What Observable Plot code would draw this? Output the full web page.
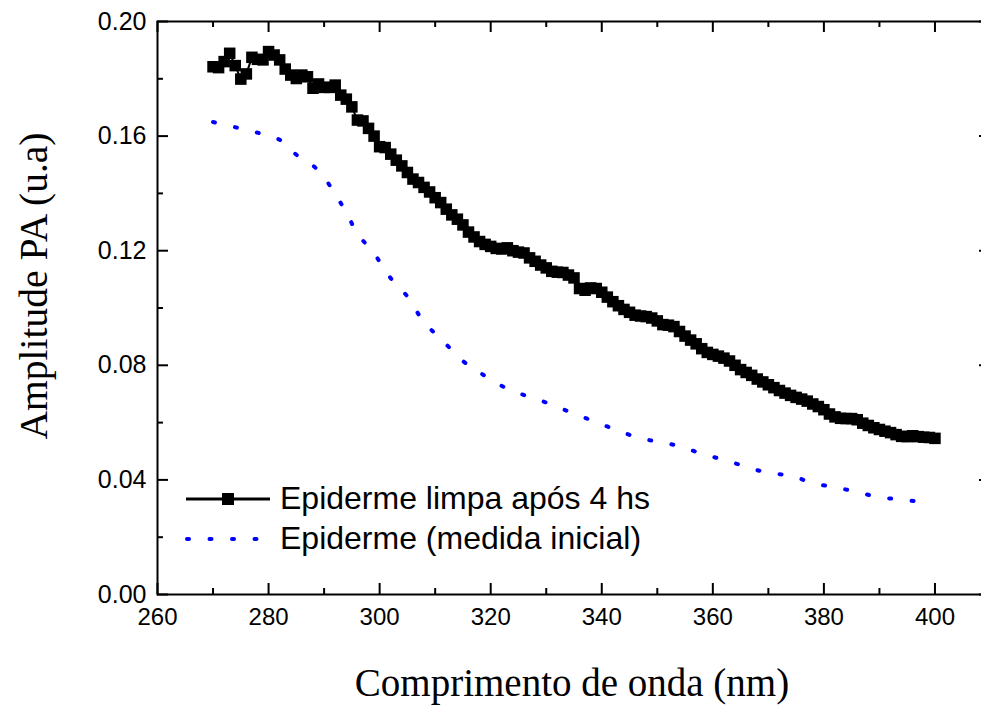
<!DOCTYPE html>
<html><head><meta charset="utf-8">
<script src="https://cdn.jsdelivr.net/npm/d3@7"></script>
<script src="https://cdn.jsdelivr.net/npm/@observablehq/plot@0.6"></script>
<style>
html,body{margin:0;padding:0;overflow:hidden;background:#fff;width:981px;height:706px}
#chart svg{max-width:none!important;display:block;overflow:hidden}
</style></head><body><div id="chart"></div>
<script>
// ---- data ----
const cleanNm = [270,271,272,273,274,275,276,277,278,279,280,281,282,283,284,285,286,287,288,289,290,291,292,293,294,295,296,297,298,299,300,301,302,303,304,305,306,307,308,309,310,311,312,313,314,315,316,317,318,319,320,321,322,323,324,325,326,327,328,329,330,331,332,333,334,335,336,337,338,339,340,341,342,343,344,345,346,347,348,349,350,351,352,353,354,355,356,357,358,359,360,361,362,363,364,365,366,367,368,369,370,371,372,373,374,375,376,377,378,379,380,381,382,383,384,385,386,387,388,389,390,391,392,393,394,395,396,397,398,399,400];
const cleanAmp = [
0.1842,0.1839,0.1860,0.1889,0.1846,0.1799,0.1817,0.1875,0.1868,0.1866,
0.1895,0.1883,0.1866,0.1834,0.1813,0.1801,0.1813,0.1807,0.1767,0.1782,
0.1770,0.1770,0.1778,0.1743,0.1729,0.1702,0.1656,0.1653,0.1627,0.1600,
0.1563,0.1560,0.1537,0.1516,0.1496,0.1473,0.1450,0.1438,0.1421,0.1405,
0.1385,0.1368,0.1345,0.1325,0.1310,0.1290,0.1265,0.1248,0.1232,0.1222,
0.1215,0.1208,0.1206,0.1210,0.1200,0.1195,0.1192,0.1175,0.1163,0.1150,
0.1140,0.1128,0.1125,0.1124,0.1115,0.1105,0.1068,0.1062,0.1070,0.1068,
0.1055,0.1038,0.1022,0.1008,0.0995,0.0985,0.0975,0.0972,0.0970,0.0965,
0.0955,0.0942,0.0940,0.0935,0.0918,0.0902,0.0888,0.0875,0.0858,0.0845,
0.0838,0.0832,0.0825,0.0815,0.0800,0.0785,0.0775,0.0765,0.0752,0.0742,
0.0732,0.0722,0.0712,0.0703,0.0695,0.0688,0.0682,0.0675,0.0665,0.0656,
0.0645,0.0630,0.0620,0.0615,0.0614,0.0614,0.0610,0.0598,0.0590,0.0582,
0.0576,0.0570,0.0565,0.0558,0.0552,0.0551,0.0554,0.0551,0.0549,0.0548,
0.0545];
const initNm  = [270,274,278,282,285,289,292,294,296,299,302,305,308,311,315,318,322,326,330,334,338,342,346,350,354,358,362,366,370,374,378,382,386,390,394,398];
const initAmp = [0.1649,0.1631,0.1612,0.1587,0.1535,0.1480,0.1397,0.1333,0.1260,0.1190,0.1104,0.1040,0.0950,0.0893,0.0815,0.0775,0.0728,0.0696,0.0670,0.0639,0.0609,0.0579,0.0551,0.0533,0.0518,0.0491,0.0470,0.0446,0.0424,0.0415,0.0389,0.0374,0.0358,0.0339,0.0332,0.0321];
const seriesNames = ["Epiderme limpa após 4 hs", "Epiderme (medida inicial)"];
const xMajor = [260,280,300,320,340,360,380,400];
const xMinor = [270,290,310,330,350,370,390];
const yMajor = [0,0.04,0.08,0.12,0.16,0.20];
const yMinor = [0.02,0.06,0.10,0.14,0.18];
const xTitle = "Comprimento de onda (nm)";
const yTitle = "Amplitude PA (u.a)";

const clean = cleanNm.map((x,i)=>({x, y: cleanAmp[i]}));
const init = initNm.map((x,i)=>({x, y: initAmp[i]}));

// ---- layout ----
const W = 990, H = 706, mL = 157, mR = 0, mT = 21, mB = 112;
const X0 = 260, X1 = 410, Y0 = 0, Y1 = 0.2;
const pxX = (W - mL - mR) / (X1 - X0);
const pxY = (H - mT - mB) / (Y1 - Y0);
const major = 11, minor = 6;
const sans = "'Liberation Sans', Arial, sans-serif";
const serif = "'Liberation Serif', 'Times New Roman', serif";
const dots = {stroke: "#0000ff", strokeWidth: 4, strokeDasharray: "2,20.5", strokeLinecap: "round"};

const chart = Plot.plot({
  width: W, height: H,
  marginLeft: mL, marginRight: mR, marginTop: mT, marginBottom: mB,
  style: {fontFamily: sans, background: "white", overflow: "hidden"},
  x: {domain: [X0, X1]},
  y: {domain: [Y0, Y1]},
  marks: [
    // ticks pointing inward on all four sides
    Plot.ruleX(xMajor, {x: d=>d, y1: Y0, y2: Y0 + major/pxY, stroke: "black", strokeWidth: 2}),
    Plot.ruleX(xMinor, {x: d=>d, y1: Y0, y2: Y0 + minor/pxY, stroke: "black", strokeWidth: 2}),
    Plot.ruleX(xMajor, {x: d=>d, y1: Y1, y2: Y1 - major/pxY, stroke: "black", strokeWidth: 2}),
    Plot.ruleX(xMinor, {x: d=>d, y1: Y1, y2: Y1 - minor/pxY, stroke: "black", strokeWidth: 2}),
    Plot.ruleY(yMajor, {y: d=>d, x1: X0, x2: X0 + major/pxX, stroke: "black", strokeWidth: 2}),
    Plot.ruleY(yMinor, {y: d=>d, x1: X0, x2: X0 + minor/pxX, stroke: "black", strokeWidth: 2}),
    Plot.ruleY(yMajor, {y: d=>d, x1: X1, x2: X1 - major/pxX, stroke: "black", strokeWidth: 2}),
    Plot.ruleY(yMinor, {y: d=>d, x1: X1, x2: X1 - minor/pxX, stroke: "black", strokeWidth: 2}),
    Plot.frame({stroke: "black", strokeWidth: 2}),
    Plot.axisX({ticks: xMajor, tickSize: 0, tickPadding: 13, fontSize: 24, fontFamily: sans, fill: "black", label: null, tickFormat: d => String(d)}),
    Plot.axisY({ticks: yMajor, tickSize: 0, tickPadding: 11, fontSize: 25, fontFamily: sans, fill: "black", label: null, tickFormat: d3.format(".2f")}),
    Plot.line(init, {x: "x", y: "y", ...dots, curve: "catmull-rom"}),
    Plot.line(clean, {x: "x", y: "y", stroke: "black", strokeWidth: 2}),
    Plot.dot(clean, {x: "x", y: "y", symbol: "square", r: 6.5, fill: "black", stroke: "none"}),
    Plot.text([xTitle], {text: d=>d, frameAnchor: "bottom", dx: -2, dy: 89, fontSize: 39, fontFamily: serif, fill: "black", lineAnchor: "middle"}),
    Plot.text([yTitle], {text: d=>d, frameAnchor: "left", textAnchor: "middle", rotate: -90, dx: -123, dy: -22, fontSize: 39.5, fontFamily: serif, fill: "black", lineAnchor: "middle"})
  ]
});
document.getElementById("chart").appendChild(chart);

// ---- legend (inside plot area) ----
const svg = d3.select(chart);
const lg = svg.append("g").attr("font-family", sans).attr("font-size", 32).attr("fill", "black").attr("text-anchor", "start");
lg.append("line").attr("x1", 186).attr("x2", 270).attr("y1", 499).attr("y2", 499).attr("stroke", "black").attr("stroke-width", 3);
lg.append("rect").attr("x", 222).attr("y", 493).attr("width", 12).attr("height", 12).attr("fill", "black");
lg.append("text").attr("x", 280).attr("y", 509).text(seriesNames[0]);
lg.append("line").attr("x1", 187).attr("x2", 258).attr("y1", 539).attr("y2", 539)
  .attr("stroke", dots.stroke).attr("stroke-width", dots.strokeWidth).attr("stroke-dasharray", dots.strokeDasharray).attr("stroke-linecap", dots.strokeLinecap);
lg.append("text").attr("x", 280).attr("y", 549).text(seriesNames[1]);
</script></body></html>
